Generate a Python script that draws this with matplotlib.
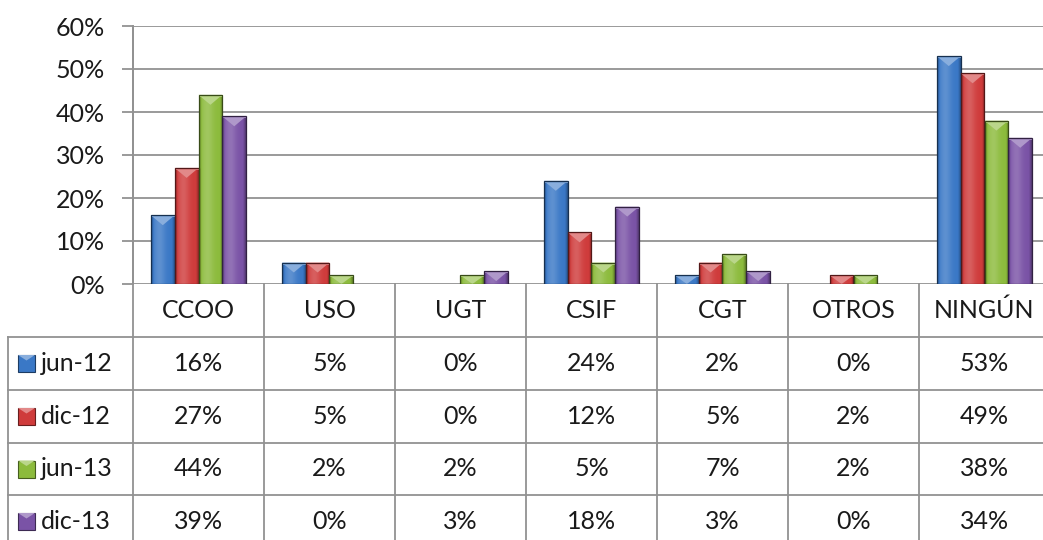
import matplotlib
matplotlib.use('Agg')
import matplotlib.pyplot as plt
import numpy as np
from matplotlib.colors import to_rgb
from matplotlib.patches import Polygon, Rectangle
from matplotlib.lines import Line2D
from matplotlib.transforms import blended_transform_factory

# data
categories = ['CCOO', 'USO', 'UGT', 'CSIF', 'CGT', 'OTROS', 'NINGÚN']
series = ['jun-12', 'dic-12', 'jun-13', 'dic-13']
jun_12 = [16, 5, 0, 24, 2, 0, 53]
dic_12 = [27, 5, 0, 12, 5, 2, 49]
jun_13 = [44, 2, 2, 5, 7, 2, 38]
dic_13 = [39, 0, 3, 18, 3, 0, 34]
values = [jun_12, dic_12, jun_13, dic_13]
colors = ['#3a78c6', '#cf3b3b', '#8cbb3c', '#7a53a6']

plt.rcParams['font.family'] = ['Lato', 'DejaVu Sans']
FS = 18
TXT = '#1a1a1a'
GRID = '#929292'

W, H = 1043, 540
fig = plt.figure(figsize=(W / 100, H / 100), dpi=100)

# axes: 0% at y=284px, 60% at y=26px, columns of 131px starting at x=133px
ax_left, ax_right = 133, 133 + 7 * 131
ax_top, ax_bot = 26, 284
ax = fig.add_axes([ax_left / W, 1 - ax_bot / H, (ax_right - ax_left) / W, (ax_bot - ax_top) / H])
ax.set_xlim(-0.5, 6.5)
ax.set_ylim(0, 60)

def px(x, y):
    # pixel (from top-left) -> figure fraction
    return x / W, 1 - y / H

def shade(c, f):
    r = np.array(to_rgb(c))
    if f >= 0:
        return tuple(r + (1 - r) * f)
    return tuple(r * (1 + f))

n = len(series)
gap = 1.5
bw = 1 / (n + gap)
x = np.arange(len(categories))
dpy = 60 / (ax_bot - ax_top)  # data units per pixel in y

for i, (vals, c) in enumerate(zip(values, colors)):
    xs = x - n * bw / 2 + (i + 0.5) * bw
    for xc, v in zip(xs, vals):
        if v <= 0:
            continue
        bar = ax.bar(xc, v, width=bw, color=c, edgecolor='none', zorder=3)[0]
        # horizontal bevel gradient
        grad = np.linspace(0, 1, 40)
        prof = 0.18 * np.exp(-((grad - 0.35) / 0.25) ** 2) - 0.3 * (np.clip(np.abs(grad - 0.5) - 0.38, 0, None) / 0.12)
        img = np.array([[shade(c, p) for p in prof]])
        im = ax.imshow(img, extent=[xc - bw / 2, xc + bw / 2, 0, v], aspect='auto', zorder=3.1,
                       interpolation='bilinear')
        im.set_clip_path(bar)
        # top highlight triangle
        th = min(10 * dpy, v)
        tri = Polygon([[xc - bw / 2, v], [xc + bw / 2, v], [xc, v - th]], closed=True,
                      facecolor=shade(c, 0.4), edgecolor='none', zorder=3.2)
        ax.add_patch(tri)
        ax.add_patch(Rectangle((xc - bw / 2, v - min(2 * dpy, v)), bw, min(2 * dpy, v),
                               facecolor=shade(c, 0.35), edgecolor='none', zorder=3.2))
        ax.bar(xc, v, width=bw, color='none', edgecolor=shade(c, -0.6), linewidth=0.9, zorder=3.3)

ax.set_yticks(np.arange(0, 61, 10))
ax.set_yticklabels(['{}%'.format(t) for t in range(0, 61, 10)], fontsize=FS, color=TXT)
ax.yaxis.grid(True, color=GRID, linewidth=1.3, zorder=0)
ax.tick_params(axis='y', length=8, width=1.3, color=GRID, pad=12)
ax.set_xticks([])
for s in ['top', 'right', 'bottom']:
    ax.spines[s].set_visible(False)
ax.spines['left'].set_color(GRID)
ax.spines['left'].set_linewidth(1.3)

# data table below the chart
rows_y = [284, 337, 390, 443, 495, 548]
bt = blended_transform_factory(ax.transData, fig.transFigure)
lw = 1.3

# vertical lines (category borders)
for k in range(len(categories) + 1):
    xd = k - 0.5
    y_start = ax_top if k == 0 else rows_y[0]
    fig.add_artist(Line2D([xd, xd], [px(0, y_start)[1], px(0, H)[1]], transform=bt,
                          color=GRID, linewidth=lw, clip_on=False))
# left border of series rows
fig.add_artist(Line2D([px(8, 0)[0]] * 2, [px(0, rows_y[1])[1], px(0, H)[1]],
                      transform=fig.transFigure, color=GRID, linewidth=lw))
# horizontal lines
for ry in rows_y[1:5]:
    fig.add_artist(Line2D([px(8, 0)[0], 1], [px(0, ry)[1]] * 2,
                          transform=fig.transFigure, color=GRID, linewidth=lw))

# header row
for k, cat in enumerate(categories):
    fig.text(k, px(0, (rows_y[0] + rows_y[1]) / 2)[1], cat, transform=bt, ha='center', va='center',
             fontsize=FS, color=TXT)

# series rows
for r, (name, vals, c) in enumerate(zip(series, values, colors)):
    yc = (rows_y[r + 1] + rows_y[r + 2]) / 2
    yf = px(0, yc)[1]
    sx0, sx1 = 18, 35
    x0f, y0f = px(sx0, yc + 8.5)
    wf = (sx1 - sx0) / W
    hf = 17 / H
    fig.add_artist(Rectangle((x0f, y0f), wf, hf, transform=fig.transFigure,
                             facecolor=c, edgecolor=shade(c, -0.5), linewidth=0.8))
    fig.add_artist(Polygon([px(sx0, yc - 8.5), px(sx1, yc - 8.5), px((sx0 + sx1) / 2, yc - 3)],
                           closed=True, transform=fig.transFigure,
                           facecolor=shade(c, 0.4), edgecolor='none'))
    fig.text(px(41, 0)[0], yf, name, ha='left', va='center', fontsize=FS, color=TXT)
    for k, v in enumerate(vals):
        fig.text(k, yf, '{}%'.format(v), transform=bt, ha='center', va='center',
                 fontsize=FS, color=TXT)

fig.savefig('out.png', dpi=100)
